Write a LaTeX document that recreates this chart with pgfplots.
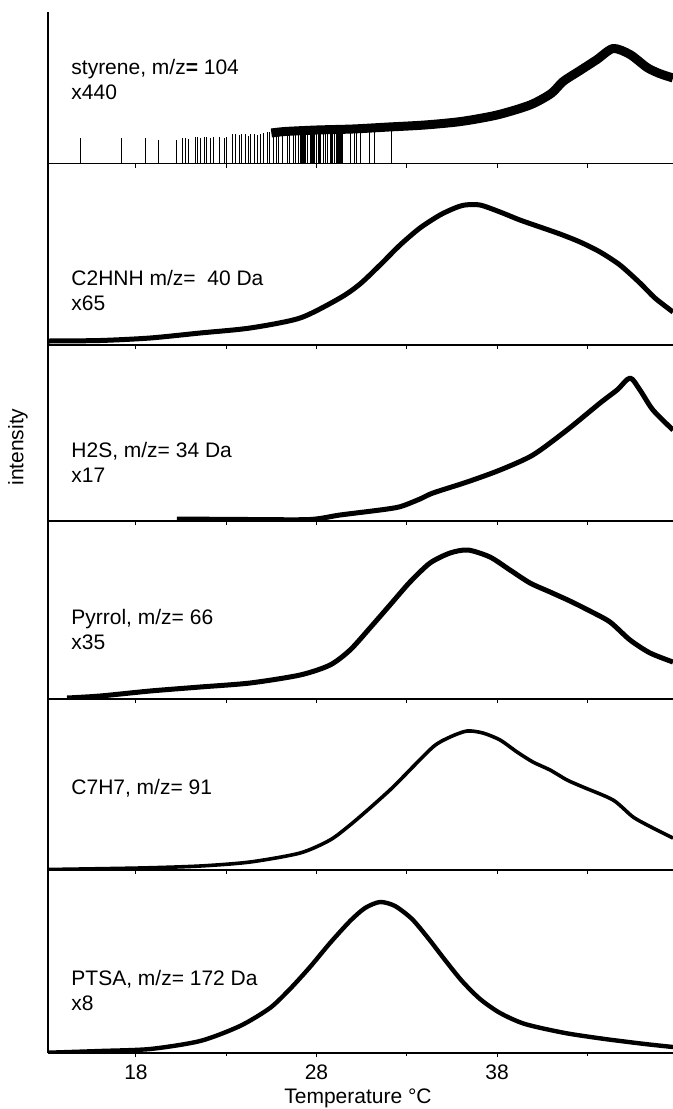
\documentclass[border=0pt]{standalone}
\usepackage{fontspec}
\setmainfont{Liberation Sans}
\usepackage{pgfplots}
\pgfplotsset{compat=1.18}
\pgfplotsset{
  panel/.style={
    scale only axis, width=312.5pt,
    xmin=13.125, xmax=47.75, ymin=0,
    axis lines*=left,
    axis line style={line width=0.7pt, black},
    ytick=\empty,
    xtick={18,23,...,43}, xticklabels={},
    tick align=outside, major tick length=2pt, minor tick length=1.5pt,
    tick style={line width=0.5pt, black},
    /pgf/number format/assume math mode=true,
    every tick label/.append style={font=\fontsize{10.5}{12}\selectfont},
  },
  curve/.style={black, smooth, tension=0.45, line join=round, mark=none},
}
\tikzset{lab/.style={anchor=west, align=left, inner sep=0pt, font=\fontsize{10.5}{12.5}\selectfont}}
\begin{document}
\begin{tikzpicture}
\useasboundingbox (-24pt,0pt) rectangle (312.5pt,-554.5pt);
\node[rotate=90, font=\fontsize{10.5}{12}\selectfont] at (-15pt,-223.5pt) {intensity};

% Panel 1: styrene
\begin{axis}[panel, at={(0pt,-81.75pt)}, anchor=south west, height=75.75pt, ymax=151.5]
\addplot[ycomb, black, line width=0.5pt, mark=none] coordinates {
(14.90,25.5) (17.17,25.5) (18.55,25.5) (19.27,23.5) (20.22,23.5) (20.60,25.5) (20.77,25.5) (20.93,25)
(21.27,27) (21.43,27) (21.60,26) (21.77,27) (21.93,27) (22.10,26) (22.27,27) (22.65,27) (22.88,26) (23.04,27)
(23.37,30) (23.54,30) (23.71,29) (23.87,30) (24.04,30) (24.21,28) (24.37,30) (24.54,30) (24.71,29) (24.87,30)
(25.09,31) (25.26,32) (25.42,32) (25.59,31) (25.76,32) (25.92,32) (26.14,33) (26.37,35) (26.53,36) (26.70,35)
(26.86,36) (27.03,36) (29.86,34) (30.08,34) (30.24,34) (30.41,34) (30.96,35) (31.19,35) (32.18,36)};
\addplot[ycomb, black, line width=0.75pt, mark=none] coordinates {
(27.10,35) (27.20,35) (27.30,36) (27.40,35) (27.50,35) (27.70,35) (27.80,36) (27.90,35) (28.00,35)
(28.10,35) (28.20,36) (28.40,35) (28.50,35) (28.60,36) (28.80,35) (28.90,35) (29.00,36) (29.10,35)
(29.20,35) (29.30,35) (29.40,35)};
\addplot[curve, line width=4.5pt] coordinates {
(25.5,30.5) (26.25,32) (28.0,33.5) (30.0,34.5) (32.0,36.5) (34.0,38.5) (36.0,42) (38.0,48.5) (39.83,58.5)
(41.0,70) (41.66,82) (42.6,93) (43.54,104) (44.43,115) (45.37,109) (46.31,96) (47.0,90) (47.75,85.5)};
\node[lab] at (axis cs:14.4,84.5) {styrene, m/z\textbf{=} 104\\x440};
\end{axis}

% Panel 2: C2HNH
\begin{axis}[panel, at={(0pt,-172.5pt)}, anchor=south west, height=90.75pt, ymax=181.5, xtick distance=1]
\addplot[curve, line width=2.5pt] coordinates {
(13.125,4) (16.01,4.5) (18.78,7) (21.55,12) (24.32,17) (27.09,27) (29.30,47) (30.41,61) (31.52,80)
(32.63,100) (33.73,117) (34.84,130) (35.67,137) (36.23,140) (37.06,140) (38.17,133) (39.27,125)
(40.38,118) (41.49,111) (42.60,103) (43.71,93) (44.81,80) (45.92,62) (46.75,47) (47.75,33)};
\node[lab] at (axis cs:14.4,55) {C2HNH m/z=\ \ 40 Da\\x65};
\end{axis}

% Panel 3: H2S
\begin{axis}[panel, at={(0pt,-260.5pt)}, anchor=south west, height=88pt, ymax=176]
\addplot[curve, line width=2.5pt] coordinates {
(20.27,2) (24.32,1.5) (27.64,1.5) (29.30,6) (31.52,11) (32.63,14.3) (33.73,22) (34.45,28) (36.34,39)
(38.17,51) (39.99,66) (41.88,91) (43.71,118) (44.65,131) (45.37,143) (45.92,131) (46.64,111) (47.75,91)};
\node[lab] at (axis cs:14.4,59) {H2S, m/z= 34 Da\\x17};
\end{axis}

% Panel 4: Pyrrol
\begin{axis}[panel, at={(0pt,-349.5pt)}, anchor=south west, height=89pt, ymax=178]
\addplot[curve, line width=2.5pt] coordinates {
(14.18,1) (16.01,3) (18.78,8) (21.55,12) (24.32,16) (27.09,24) (28.75,34) (29.86,49) (30.96,71)
(32.07,94) (33.18,117) (34.29,136) (35.40,146) (36.39,149) (37.61,142) (38.72,129) (39.83,116)
(40.94,107) (42.04,98) (43.15,88) (44.26,77) (45.37,59) (46.48,46) (47.75,37)};
\node[lab] at (axis cs:14.4,70) {Pyrrol, m/z= 66\\x35};
\end{axis}

% Panel 5: C7H7
\begin{axis}[panel, at={(0pt,-435pt)}, anchor=south west, height=85.5pt, ymax=171]
\addplot[curve, line width=1.8pt] coordinates {
(13.125,0.5) (18.22,2) (21.55,4) (24.32,8) (27.09,17) (28.75,30) (29.86,45) (30.96,62) (32.07,80)
(32.63,90) (34.45,123) (35.40,133) (36.34,139) (37.22,137) (38.17,130) (39.11,118) (39.99,108)
(40.94,100) (41.88,90) (42.76,83) (44.43,70) (45.54,53) (46.64,42) (47.75,32)};
\node[lab] at (axis cs:14.4,82) {C7H7, m/z= 91};
\end{axis}

% Panel 6: PTSA
\begin{axis}[panel, at={(0pt,-526.5pt)}, anchor=south west, height=91.5pt, ymax=183,
  xtick={18,28,38}, xticklabels={18,28,38}, minor xtick={23,33,43},
  xticklabel style={yshift=-0.5pt},
  xlabel={Temperature °C},
  xlabel style={at={(axis description cs:0.496,0)}, anchor=center, yshift=-22.5pt, font=\fontsize{10.5}{12}\selectfont}]
\addplot[curve, line width=2.2pt] coordinates {
(13.125,0.3) (16.0,2) (18.78,4) (21.55,12) (23.76,27) (25.42,45) (26.53,64) (27.64,86) (28.75,110)
(29.86,132) (30.69,145) (31.52,151) (32.35,147) (33.29,134) (34.18,115) (35.12,93) (36.06,72)
(37.06,54) (38.17,40) (39.55,29) (41.77,20) (43.98,14) (46.20,9) (47.75,6)};
\node[lab] at (axis cs:14.4,63) {PTSA, m/z= 172 Da\\x8};
\end{axis}
\end{tikzpicture}
\end{document}
